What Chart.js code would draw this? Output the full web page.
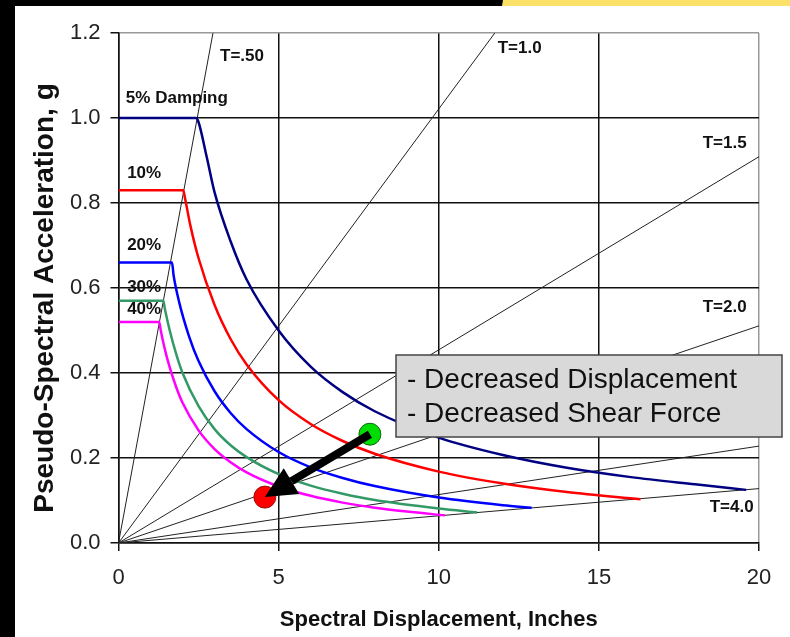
<!DOCTYPE html>
<html>
<head>
<meta charset="utf-8">
<script src="https://cdn.jsdelivr.net/npm/chart.js@4.4.0/dist/chart.umd.min.js"></script>
<style>
  body { margin: 0; background: #fff; }
  #wrap { position: relative; width: 790px; height: 637px; overflow: hidden; }
  #chart { position: absolute; left: 0; top: 0; }
  .edge { position: absolute; }
</style>
</head>
<body>
<div id="wrap">
  <canvas id="chart" width="790" height="637"></canvas>
  <div class="edge" style="left:0;top:0;width:15px;height:637px;background:#000"></div>
  <div class="edge" style="left:0;top:0;width:503px;height:6px;background:#000"></div>
  <div class="edge" style="left:502px;top:0;width:288px;height:6px;background:#fbe06a;clip-path:polygon(1px 0,100% 0,100% 100%,0 100%)"></div>
</div>
<script>
// spectral displacement (in) / pseudo acceleration (g)
const damp5X  = [0, 2.42, 2.5, 2.75, 3, 3.5, 4, 5, 6, 7, 8, 10, 12, 14, 16, 18, 19.6];
const damp5Y  = [1.0, 1.0, 0.99, 0.91, 0.825, 0.71, 0.62, 0.5, 0.415, 0.355, 0.31, 0.248, 0.207, 0.177, 0.155, 0.138, 0.125];
const damp10X = [0, 2.02, 2.08, 2.25, 2.5, 3, 3.5, 4, 5, 6, 7, 8, 10, 12, 14, 16.3];
const damp10Y = [0.83, 0.83, 0.81, 0.745, 0.67, 0.56, 0.48, 0.42, 0.336, 0.28, 0.24, 0.21, 0.168, 0.14, 0.12, 0.103];
const damp20X = [0, 1.67, 1.72, 1.9, 2.2, 2.5, 3, 3.5, 4, 5, 6, 7, 8, 10, 12, 12.9];
const damp20Y = [0.66, 0.66, 0.63, 0.565, 0.487, 0.428, 0.357, 0.306, 0.268, 0.214, 0.178, 0.153, 0.134, 0.107, 0.089, 0.083];
const damp30X = [0, 1.4, 1.45, 1.6, 1.8, 2, 2.5, 3, 3.5, 4, 5, 6, 7, 8, 10, 11.2];
const damp30Y = [0.57, 0.57, 0.55, 0.5, 0.445, 0.4, 0.322, 0.268, 0.23, 0.202, 0.162, 0.135, 0.116, 0.101, 0.081, 0.072];
const damp40X = [0, 1.27, 1.32, 1.45, 1.6, 1.8, 2, 2.5, 3, 3.5, 4, 5, 6, 7, 8, 9, 10.2];
const damp40Y = [0.52, 0.52, 0.5, 0.455, 0.413, 0.367, 0.33, 0.265, 0.221, 0.19, 0.166, 0.133, 0.111, 0.095, 0.083, 0.074, 0.065];
const dampLabels = ['5% Damping', '10%', '20%', '30%', '40%'];

// constant period lines from the origin, end point where they leave the plot
const periodNames = ['T=.50', 'T=1.0', 'T=1.5', 'T=2.0', 'T=3.0', 'T=4.0'];
const periodEndX  = [2.95, 11.75, 20, 20, 20, 20];
const periodEndY  = [1.2, 1.2, 0.909, 0.511, 0.228, 0.128];

// before / after points
const shiftX = [7.85, 4.57];
const shiftY = [0.256, 0.108];

const xTicks = [0, 5, 10, 15, 20];
const yTicks = [0, 0.2, 0.4, 0.6, 0.8, 1.0, 1.2];

const noteLines = ['- Decreased Displacement', '- Decreased Shear Force'];

const FONT = '"Liberation Sans", Arial, sans-serif';
const pts = (xs, ys) => xs.map((x, i) => ({ x, y: ys[i] }));

const curveColors = ['#000080', '#ff0000', '#0000ff', '#339966', '#ff00ff'];
const curves = [[damp5X, damp5Y], [damp10X, damp10Y], [damp20X, damp20Y], [damp30X, damp30Y], [damp40X, damp40Y]];

const datasets = [];
datasets.push({
  label: 'shift',
  data: pts(shiftX, shiftY),
  showLine: false,
  pointRadius: 11,
  pointBackgroundColor: ['#00dd00', '#ff0000'],
  pointBorderColor: ['#116611', '#991111'],
  pointBorderWidth: 1,
  order: 0
});
curves.forEach((c, i) => datasets.push({
  label: dampLabels[i],
  data: pts(c[0], c[1]),
  showLine: true,
  borderColor: curveColors[i],
  borderWidth: 2.5,
  pointRadius: 0,
  cubicInterpolationMode: 'monotone',
  order: 1
}));
periodNames.forEach((n, i) => datasets.push({
  label: n,
  data: [{ x: 0, y: 0 }, { x: periodEndX[i], y: periodEndY[i] }],
  showLine: true,
  borderColor: '#222',
  borderWidth: 1,
  pointRadius: 0,
  order: 2
}));

// text labels, arrow and note box
const overlay = {
  id: 'overlay',
  afterDraw(chart) {
    const { ctx, scales: { x, y } } = chart;
    ctx.save();

    // arrow from green to red point
    const x0 = x.getPixelForValue(shiftX[0]), y0 = y.getPixelForValue(shiftY[0]);
    const x1 = x.getPixelForValue(shiftX[1]), y1 = y.getPixelForValue(shiftY[1]);
    const ang = Math.atan2(y1 - y0, x1 - x0);
    const headLen = 31, headW = 15;
    const bx = x1 - headLen * Math.cos(ang), by = y1 - headLen * Math.sin(ang);
    ctx.strokeStyle = '#000';
    ctx.lineWidth = 8;
    ctx.beginPath();
    ctx.moveTo(x0, y0);
    ctx.lineTo(bx, by);
    ctx.stroke();
    ctx.fillStyle = '#000';
    ctx.beginPath();
    ctx.moveTo(x1, y1);
    ctx.lineTo(bx + headW * Math.sin(ang), by - headW * Math.cos(ang));
    ctx.lineTo(bx - headW * Math.sin(ang), by + headW * Math.cos(ang));
    ctx.closePath();
    ctx.fill();

    // labels
    ctx.fillStyle = '#111';
    ctx.font = 'bold 17px ' + FONT;
    ctx.textBaseline = 'middle';
    ctx.textAlign = 'left';
    const lab = (t, vx, vy) => ctx.fillText(t, x.getPixelForValue(vx), y.getPixelForValue(vy));
    lab(periodNames[0], 3.17, 1.146);
    lab(periodNames[1], 11.84, 1.164);
    lab(periodNames[2], 18.24, 0.941);
    lab(periodNames[3], 18.24, 0.554);
    lab(periodNames[5], 18.46, 0.0845);
    lab(dampLabels[0], 0.23, 1.047);
    lab(dampLabels[1], 0.27, 0.871);
    lab(dampLabels[2], 0.27, 0.70);
    lab(dampLabels[3], 0.27, 0.601);
    lab(dampLabels[4], 0.27, 0.549);

    // note box
    ctx.fillStyle = '#d9d9d9';
    ctx.fillRect(396, 355, 386, 82);
    ctx.strokeStyle = '#444';
    ctx.lineWidth = 1.5;
    ctx.strokeRect(396, 355, 386, 82);
    ctx.fillStyle = '#111';
    ctx.font = '28px ' + FONT;
    ctx.fillText(noteLines[0], 407, 380);
    ctx.fillText(noteLines[1], 407, 414);

    // axis titles
    ctx.font = 'bold 22px ' + FONT;
    ctx.textAlign = 'center';
    ctx.textBaseline = 'alphabetic';
    ctx.fillText('Spectral Displacement, Inches', (x.left + x.right) / 2, 626);
    ctx.translate(53, 298);
    ctx.rotate(-Math.PI / 2);
    ctx.font = 'bold 28px ' + FONT;
    ctx.fillText('Pseudo-Spectral Acceleration, g', 0, 0);
    ctx.restore();
  }
};

const isMax = (v, m) => Math.abs(v - m) < 1e-6;

new Chart(document.getElementById('chart'), {
  type: 'scatter',
  data: { datasets },
  options: {
    responsive: false,
    animation: false,
    layout: { padding: { left: 15, top: 33, right: 31, bottom: 0 } },
    plugins: { legend: { display: false }, tooltip: { enabled: false } },
    scales: {
      x: {
        type: 'linear',
        min: 0, max: 20,
        afterBuildTicks: s => { s.ticks = xTicks.map(v => ({ value: v })); },
        afterFit: s => { s.height = 94; },
        grid: {
          color: c => isMax(c.tick.value, 20) ? '#999' : '#111',
          lineWidth: 1.5,
          tickLength: 8,
          tickColor: '#111'
        },
        border: { color: '#111', width: 1.5 },
        ticks: { color: '#222', font: { family: FONT, size: 22 }, padding: 14 }
      },
      y: {
        type: 'linear',
        min: 0, max: 1.2,
        afterBuildTicks: s => { s.ticks = yTicks.map(v => ({ value: v })); },
        afterFit: s => { s.width = 103.5; },
        grid: {
          color: c => isMax(c.tick.value, 1.2) ? '#999' : '#111',
          lineWidth: 1.5,
          tickLength: 8,
          tickColor: '#111'
        },
        border: { color: '#111', width: 1.5 },
        ticks: { color: '#222', font: { family: FONT, size: 22 }, padding: 10, callback: v => v.toFixed(1) }
      }
    }
  },
  plugins: [overlay]
});
</script>
</body>
</html>
